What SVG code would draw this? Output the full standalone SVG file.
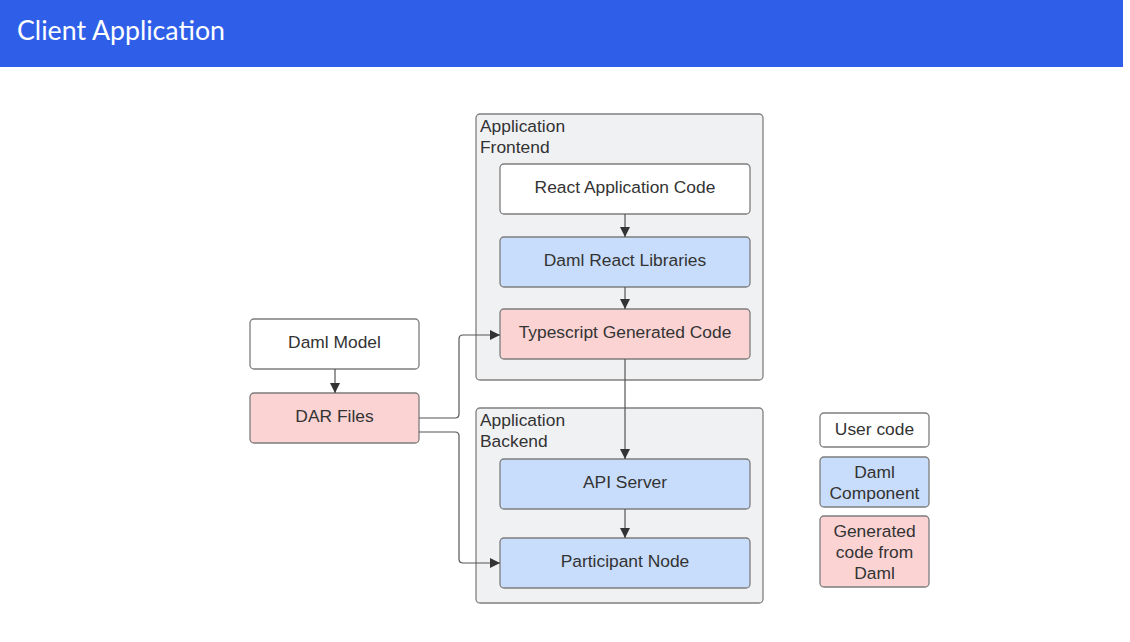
<svg xmlns="http://www.w3.org/2000/svg" width="1130" height="642" viewBox="0 0 1130 642">
<style>
.t{font-family:"Liberation Sans",Arial,sans-serif;font-size:17.4px;fill:#333;}
.c{text-anchor:middle;}
.box{stroke:#7d7d7d;stroke-width:1.3;}
.white{fill:#ffffff;}
.blue{fill:#c8ddfb;}
.pink{fill:#fbd3d3;}
.cont{fill:#f0f1f3;stroke:#808080;stroke-width:1.3;}
.ln{fill:none;stroke:#555;stroke-width:1.2;marker-end:url(#ah);}
</style>
<defs>
<marker id="ah" viewBox="0 0 10 10" refX="10" refY="5" markerWidth="10" markerHeight="10" markerUnits="userSpaceOnUse" orient="auto">
<path d="M0,0 L10,5 L0,10 z" fill="#333"/>
</marker>
</defs>
<rect width="1130" height="642" fill="#ffffff"/>
<g id="header">
<rect x="0" y="0" width="1123" height="67" fill="#2f5fe9"/>
<text x="17" y="40" font-family="Lato,'Noto Sans',sans-serif" font-size="26" fill="#ffffff" textLength="208" lengthAdjust="spacingAndGlyphs">Client Application</text>
</g>
<g id="frontend">
<rect class="cont" x="476" y="114" width="287" height="266" rx="4"/>
<text class="t" x="480" y="132">Application</text>
<text class="t" x="480" y="153">Frontend</text>
</g>
<g id="backend">
<rect class="cont" x="476" y="408" width="287" height="195" rx="4"/>
<text class="t" x="480" y="426">Application</text>
<text class="t" x="480" y="447">Backend</text>
</g>
<g id="react-app">
<rect class="box white" x="500" y="164" width="250" height="50" rx="4"/>
<text class="t c" x="625" y="193">React Application Code</text>
</g>
<g id="daml-react">
<rect class="box blue" x="500" y="237" width="250" height="50" rx="4"/>
<text class="t c" x="625" y="266">Daml React Libraries</text>
</g>
<g id="ts-gen">
<rect class="box pink" x="500" y="309" width="250" height="50" rx="4"/>
<text class="t c" x="625" y="338">Typescript Generated Code</text>
</g>
<g id="api-server">
<rect class="box blue" x="500" y="459" width="250" height="50" rx="4"/>
<text class="t c" x="625" y="488">API Server</text>
</g>
<g id="participant">
<rect class="box blue" x="500" y="538" width="250" height="50" rx="4"/>
<text class="t c" x="625" y="567">Participant Node</text>
</g>
<g id="daml-model">
<rect class="box white" x="250" y="319" width="169" height="50" rx="4"/>
<text class="t c" x="334.5" y="348">Daml Model</text>
</g>
<g id="dar-files">
<rect class="box pink" x="250" y="393" width="169" height="50" rx="4"/>
<text class="t c" x="334.5" y="422">DAR Files</text>
</g>
<g id="legend-user">
<rect class="box white" x="820" y="413" width="109" height="34" rx="4"/>
<text class="t c" x="874.5" y="435">User code</text>
</g>
<g id="legend-daml">
<rect class="box blue" x="820" y="457" width="109" height="50" rx="4"/>
<text class="t c" x="874.5" y="478">Daml</text>
<text class="t c" x="874.5" y="499">Component</text>
</g>
<g id="legend-gen">
<rect class="box pink" x="820" y="516" width="109" height="71" rx="4"/>
<text class="t c" x="874.5" y="537">Generated</text>
<text class="t c" x="874.5" y="558">code from</text>
<text class="t c" x="874.5" y="579">Daml</text>
</g>
<g id="connectors">
<path class="ln" d="M625,214 V237"/>
<path class="ln" d="M625,287 V309"/>
<path class="ln" d="M625,359 V459"/>
<path class="ln" d="M625,509 V538"/>
<path class="ln" d="M335,369 V393"/>
<path class="ln" d="M419,418 H455 Q459,418 459,414 V339 Q459,335 463,335 H500"/>
<path class="ln" d="M419,432 H455 Q459,432 459,436 V559 Q459,563 463,563 H500"/>
</g>
</svg>
